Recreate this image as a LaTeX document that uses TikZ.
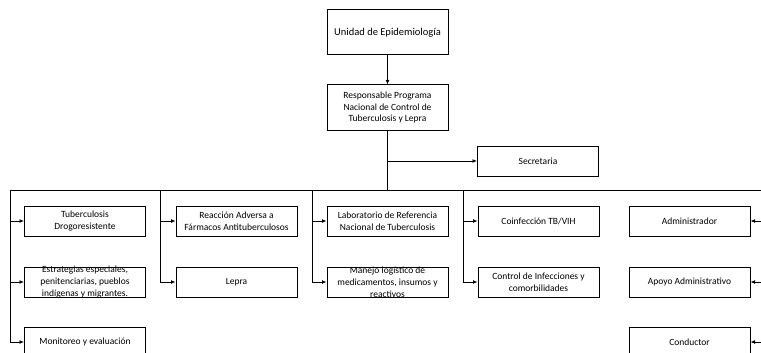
\documentclass[tikz,border=0pt]{standalone}
\usepackage{fontspec}
\setmainfont{Carlito}
\usetikzlibrary{arrows.meta}
\begin{document}
\begin{tikzpicture}[x=1pt,y=-1pt,
  box/.style={draw, line width=1pt, minimum width=121pt, minimum height=30pt,
    inner sep=0pt, align=center, font=\fontsize{9.5}{12}\selectfont},
  lbl/.style={inner sep=0pt, align=center, font=\fontsize{9.5}{11.8}\selectfont},
  wire/.style={line width=0.9pt},
  arr/.style={wire, -{Latex[length=4.5pt,width=4pt]}}]
\useasboundingbox (0,0) rectangle (761,353);

% top of the hierarchy
\node[box, minimum height=45pt, font=\fontsize{10.5}{12}\selectfont] (epi) at (387.5,32.5) {Unidad de Epidemiología};
\node[box, minimum height=45pt, font=\fontsize{9.5}{11.2}\selectfont] (resp) at (387.5,107.5)
  {Responsable Programa\\Nacional de Control de\\Tuberculosis y Lepra};
\node[box] (sec) at (538,161) {Secretaria};

% column 1
\node[box] (tb) at (85,221) {Tuberculosis\\Drogoresistente};
\node[box] (estr) at (85,282) {};
\node[lbl] (estrt) at (estr) {Estrategias especiales,\\penitenciarias, pueblos\\indígenas y migrantes.};
\node[box] (mon) at (85,342) {Monitoreo y evaluación};

% column 2
\node[box] (ram) at (236.5,221) {Reacción Adversa a\\Fármacos Antituberculosos};
\node[box] (lep) at (236.5,282) {Lepra};

% column 3
\node[box] (lab) at (387.5,221) {Laboratorio de Referencia\\Nacional de Tuberculosis};
\node[box] (man) at (387.5,282) {};
\node[lbl] (mant) at (man) {Manejo logístico de\\medicamentos, insumos y\\reactivos};

% column 4
\node[box] (coi) at (538.5,221) {Coinfección TB/VIH};
\node[box] (con) at (538.5,282) {Control de Infecciones y\\comorbilidades};

% column 5
\node[box] (adm) at (689.5,221) {Administrador};
\node[box] (apo) at (689.5,282) {Apoyo Administrativo};
\node[box] (cond) at (689.5,342) {Conductor};

% bus and branch points
\coordinate (busL) at (10,190);
\coordinate (busR) at (761,190);
\coordinate (jmain) at (387.5,190);
\coordinate (b2) at (160.5,190);
\coordinate (b3) at (312,190);
\coordinate (b4) at (463,190);

% connectors
\draw[arr] (epi) -- (resp);
\draw[wire] (resp.south) -- (jmain);
\draw[arr] (resp.south |- sec.west) -- (sec.west);
\draw[wire] (busL) -- (busR);

\draw[arr] (busL) |- (tb.west);
\draw[arr] (busL) |- (estr.west);
\draw[arr] (busL) |- (mon.west);

\draw[arr] (b2) |- (ram.west);
\draw[arr] (b2) |- (lep.west);

\draw[arr] (b3) |- (lab.west);
\draw[arr] (b3) |- (man.west);

\draw[arr] (b4) |- (coi.west);
\draw[arr] (b4) |- (con.west);

\draw[arr] (busR) |- (adm.east);
\draw[arr] (busR) |- (apo.east);
\draw[arr] (busR) |- (cond.east);
\end{tikzpicture}
\end{document}
